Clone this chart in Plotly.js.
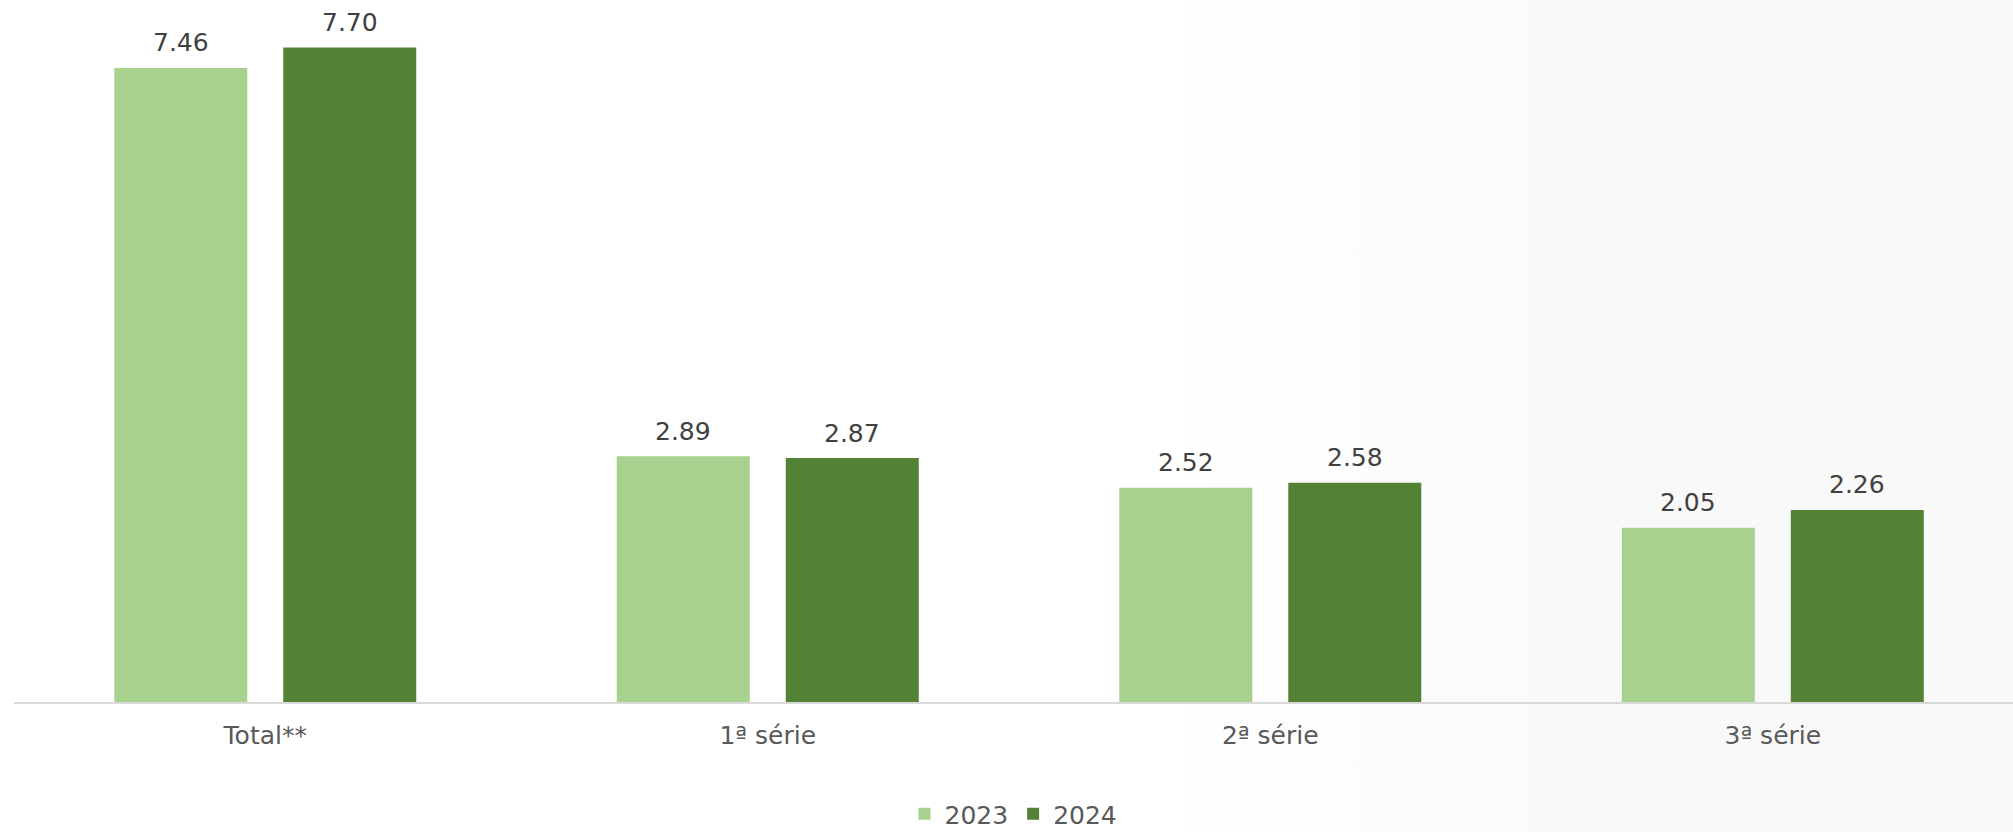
<!DOCTYPE html>
<html>
<head>
<meta charset="utf-8">
<script src="https://cdn.plot.ly/plotly-3.0.1.min.js"></script>
<style>
  html, body { margin: 0; padding: 0; }
  body { background: linear-gradient(to right, #ffffff 0%, #ffffff 58%, #f9f9f9 80%, #f9f9f9 100%); }
  #chart { width: 2013px; height: 832px; }
</style>
</head>
<body>
<div id="chart"></div>
<script>
const categories = ["Total**", "1ª série", "2ª série", "3ª série"];
const series2023 = [7.46, 2.89, 2.52, 2.05];
const series2024 = [7.70, 2.87, 2.58, 2.26];
const seriesNames = ["2023", "2024"];
const colors = ["#A9D18E", "#548235"];

const allSeries = [series2023, series2024];
const traces = allSeries.map((vals, i) => ({
  type: "bar",
  name: seriesNames[i],
  x: categories,
  y: vals,
  marker: { color: colors[i] },
  hoverinfo: "x+y+name"
}));

const pxPerCat = (2013 - 14) / 3.978;
const bargap = 0.3274;
const slot = pxPerCat * (1 - bargap) / 2;

const annotations = [];
allSeries.forEach((vals, i) => {
  vals.forEach((v, j) => {
    annotations.push({
      x: categories[j], y: v, xref: "x", yref: "y",
      text: v.toFixed(2),
      showarrow: false,
      xanchor: "center", yanchor: "middle",
      xshift: (i - 0.5) * slot,
      yshift: 25,
      font: { family: "DejaVu Sans, Verdana, sans-serif", size: 25, color: "#404040" }
    });
  });
});

const layout = {
  width: 2013, height: 832,
  margin: { l: 14, r: 0, t: 20, b: 130 },
  paper_bgcolor: "rgba(0,0,0,0)",
  plot_bgcolor: "rgba(0,0,0,0)",
  barmode: "group",
  bargap: bargap,
  bargroupgap: 0.213,
  font: { family: "DejaVu Sans, Verdana, sans-serif", size: 25, color: "#595959" },
  xaxis: {
    type: "category",
    range: [-0.5, 3.478],
    showline: true, linecolor: "#D9D9D9", linewidth: 1.5,
    ticks: "", showgrid: false, zeroline: false,
    tickfont: { family: "DejaVu Sans, Verdana, sans-serif", size: 25, color: "#595959" },
    ticklabelstandoff: 10
  },
  yaxis: {
    range: [0, 8.024],
    visible: false, showgrid: false, zeroline: false
  },
  showlegend: true,
  legend: {
    orientation: "h",
    x: 0.5, xref: "paper", xanchor: "center",
    y: 0.0216, yref: "container", yanchor: "middle",
    font: { family: "DejaVu Sans, Verdana, sans-serif", size: 25, color: "#595959" },
    bgcolor: "rgba(0,0,0,0)",
    itemclick: false
  },
  annotations: annotations
};

Plotly.newPlot("chart", traces, layout, { displayModeBar: false, staticPlot: true });
</script>
</body>
</html>
